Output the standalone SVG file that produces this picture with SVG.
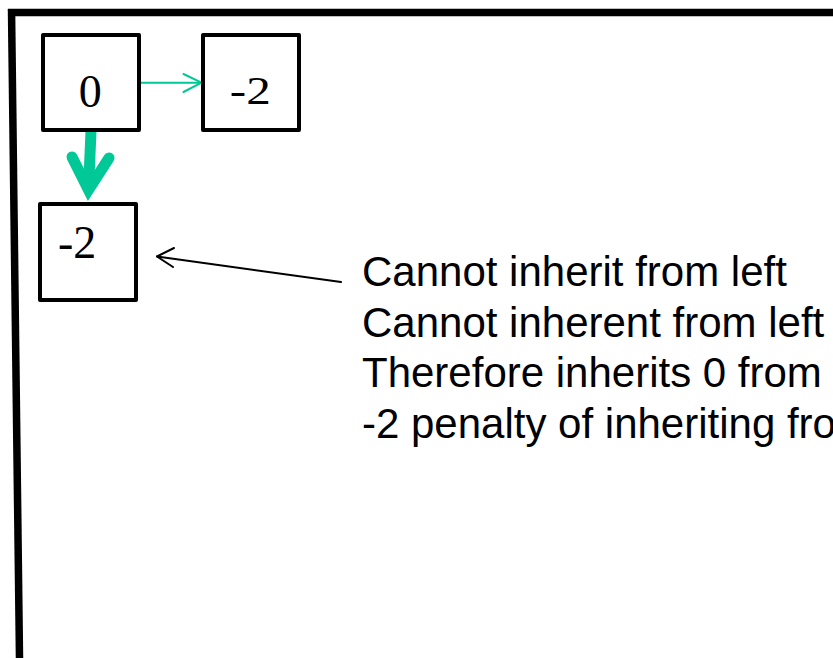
<svg xmlns="http://www.w3.org/2000/svg" width="833" height="658" viewBox="0 0 833 658">
  <style>
    .frame { stroke: #000; stroke-width: 7.5; fill: none; stroke-linecap: butt; }
    .cell { fill: #fff; stroke: #000; stroke-width: 4; stroke-linejoin: round; }
    .num { font-family: "Liberation Serif", "Times New Roman", serif; fill: #000; }
    .note { font-family: "Liberation Sans", Arial, sans-serif; font-size: 42px; fill: #000; }
    .thin-green { stroke: #00C896; stroke-width: 2; fill: none; stroke-linecap: round; stroke-linejoin: round; }
    .thick-green { stroke: #00C896; stroke-width: 11; fill: none; }
    .pointer { stroke: #000; stroke-width: 2; fill: none; stroke-linecap: round; stroke-linejoin: round; }
  </style>

  <!-- page frame -->
  <g id="frame">
    <line class="frame" x1="8" y1="12.5" x2="833" y2="12.5"/>
    <line class="frame" x1="11.5" y1="9" x2="19.5" y2="658"/>
  </g>

  <!-- connectors -->
  <g id="connectors">
    <!-- right: 0 -> -2 -->
    <line class="thin-green" x1="140" y1="82.7" x2="201" y2="82.7"/>
    <polyline class="thin-green" points="183.5,74 201.5,82.7 183.5,92"/>
    <!-- down: 0 -> -2 -->
    <line class="thick-green" x1="91" y1="131" x2="88.5" y2="190" stroke-linecap="butt"/>
    <polyline class="thick-green" points="72,157 88.5,190 109,158" stroke-linecap="round" stroke-linejoin="miter"/>
    <!-- note pointer -->
    <line class="pointer" x1="341" y1="282" x2="157" y2="256.5"/>
    <polyline class="pointer" points="174,248 157,256.5 173,267"/>
  </g>

  <g id="node-top-left">
    <rect class="cell" x="43" y="35" width="96" height="95"/>
    <text class="num" x="90.2" y="106.7" font-size="46" text-anchor="middle">0</text>
  </g>

  <g id="node-top-right">
    <rect class="cell" x="203" y="35" width="96" height="95"/>
    <text class="num" font-size="40" transform="translate(229.8,104) scale(1.23,1)">-2</text>
  </g>

  <g id="node-bottom-left">
    <rect class="cell" x="40" y="204" width="96" height="96"/>
    <text class="num" x="58" y="258" font-size="46">-2</text>
  </g>

  <g id="note">
    <text class="note" x="362" y="285.5">Cannot inherit from left</text>
    <text class="note" x="362" y="336.5">Cannot inherent from left</text>
    <text class="note" x="362" y="387">Therefore inherits 0 from</text>
    <text class="note" x="362" y="437.5">-2 penalty of inheriting from</text>
  </g>
</svg>
